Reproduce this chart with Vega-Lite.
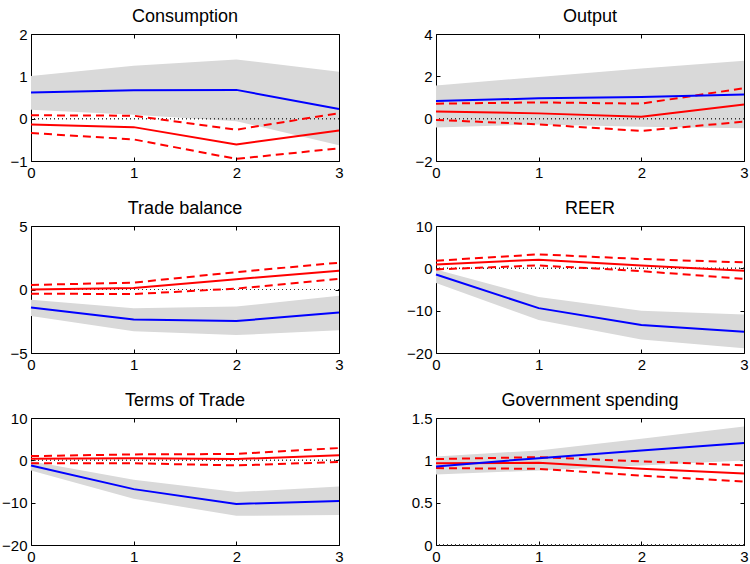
{
  "$schema": "https://vega.github.io/schema/vega-lite/v6.json",
  "background": "white",
  "padding": {"left": 1, "top": 7, "right": 0, "bottom": 2},
  "datasets": {
    "irf": [
      {"panel": "C", "h": 0, "lo": 0.21, "hi": 1.01, "irf": 0.62, "red": -0.14, "redHi": 0.08, "redLo": -0.34},
      {"panel": "C", "h": 1, "lo": 0.09, "hi": 1.25, "irf": 0.67, "red": -0.20, "redHi": 0.07, "redLo": -0.49},
      {"panel": "C", "h": 2, "lo": -0.06, "hi": 1.40, "irf": 0.68, "red": -0.61, "redHi": -0.26, "redLo": -0.95},
      {"panel": "C", "h": 3, "lo": -0.63, "hi": 1.11, "irf": 0.23, "red": -0.28, "redHi": 0.13, "redLo": -0.70},
      {"panel": "O", "h": 0, "lo": -0.42, "hi": 1.57, "irf": 0.83, "red": 0.34, "redHi": 0.71, "redLo": -0.06},
      {"panel": "O", "h": 1, "lo": -0.27, "hi": 1.97, "irf": 0.96, "red": 0.25, "redHi": 0.77, "redLo": -0.27},
      {"panel": "O", "h": 2, "lo": -0.38, "hi": 2.37, "irf": 1.02, "red": 0.09, "redHi": 0.71, "redLo": -0.58},
      {"panel": "O", "h": 3, "lo": -0.45, "hi": 2.74, "irf": 1.14, "red": 0.67, "redHi": 1.44, "redLo": -0.14},
      {"panel": "TB", "h": 0, "lo": -2.08, "hi": -0.81, "irf": -1.42, "red": 0.0, "redHi": 0.36, "redLo": -0.33},
      {"panel": "TB", "h": 1, "lo": -3.28, "hi": -1.47, "irf": -2.37, "red": 0.12, "redHi": 0.54, "redLo": -0.36},
      {"panel": "TB", "h": 2, "lo": -3.59, "hi": -1.34, "irf": -2.48, "red": 0.81, "redHi": 1.37, "redLo": 0.07},
      {"panel": "TB", "h": 3, "lo": -3.20, "hi": -0.49, "irf": -1.82, "red": 1.47, "redHi": 2.11, "redLo": 0.84},
      {"panel": "R", "h": 0, "lo": -3.45, "hi": -0.3, "irf": -1.46, "red": 0.93, "redHi": 1.8, "redLo": -0.26},
      {"panel": "R", "h": 1, "lo": -12.2, "hi": -6.8, "irf": -9.4, "red": 2.04, "redHi": 3.3, "redLo": 0.69},
      {"panel": "R", "h": 2, "lo": -16.8, "hi": -10.0, "irf": -13.4, "red": 0.69, "redHi": 2.2, "redLo": -0.66},
      {"panel": "R", "h": 3, "lo": -18.9, "hi": -10.9, "irf": -15.0, "red": -0.58, "redHi": 1.4, "redLo": -2.49},
      {"panel": "T", "h": 0, "lo": -2.4, "hi": -0.2, "irf": -1.2, "red": 0.4, "redHi": 1.0, "redLo": -0.7},
      {"panel": "T", "h": 1, "lo": -9.1, "hi": -4.6, "irf": -6.8, "red": 0.5, "redHi": 1.4, "redLo": -0.7},
      {"panel": "T", "h": 2, "lo": -13.1, "hi": -7.5, "irf": -10.3, "red": 0.3, "redHi": 1.5, "redLo": -1.2},
      {"panel": "T", "h": 3, "lo": -12.9, "hi": -6.2, "irf": -9.6, "red": 1.2, "redHi": 2.9, "redLo": -0.4},
      {"panel": "G", "h": 0, "lo": 0.833, "hi": 1.046, "irf": 0.928, "red": 0.967, "redHi": 1.015, "redLo": 0.908},
      {"panel": "G", "h": 1, "lo": 0.88, "hi": 1.117, "irf": 1.026, "red": 0.971, "redHi": 1.038, "redLo": 0.90},
      {"panel": "G", "h": 2, "lo": 0.94, "hi": 1.255, "irf": 1.117, "red": 0.90, "redHi": 0.987, "redLo": 0.82},
      {"panel": "G", "h": 3, "lo": 0.999, "hi": 1.40, "irf": 1.204, "red": 0.845, "redHi": 0.94, "redLo": 0.75}
    ]
  },
  "data": {"name": "irf"},
  "columns": 2,
  "bounds": "flush",
  "spacing": {"row": 65, "column": 97},
  "concat": [
    {
      "title": "Consumption", "width": 308, "height": 127,
      "transform": [{"filter": "datum.panel === 'C'"}],
      "layer": [
        {"mark": {"type": "area", "color": "#d9d9d9"}, "encoding": {"x": {"field": "h", "type": "quantitative", "scale": {"domain": [0, 3], "nice": false, "zero": false}, "axis": {"values": [0, 1, 2, 3], "title": null}}, "y": {"field": "lo", "type": "quantitative", "scale": {"domain": [-1, 2], "nice": false, "zero": false}, "axis": {"values": [-1, 0, 1, 2], "title": null, "format": "~r"}}, "y2": {"field": "hi"}}},
        {"mark": {"type": "rule", "color": "#333333", "strokeDash": [1, 3], "strokeWidth": 1}, "encoding": {"y": {"datum": 0, "type": "quantitative", "scale": {"domain": [-1, 2], "nice": false, "zero": false}, "axis": null}}},
        {"mark": {"type": "line", "color": "#ff0000", "strokeWidth": 2, "strokeDash": [8, 5]}, "encoding": {"x": {"field": "h", "type": "quantitative", "scale": {"domain": [0, 3], "nice": false, "zero": false}, "axis": {"orient": "top", "values": [0, 1, 2, 3], "labels": false, "title": null}}, "y": {"field": "redHi", "type": "quantitative", "scale": {"domain": [-1, 2], "nice": false, "zero": false}, "axis": {"orient": "right", "values": [-1, 0, 1, 2], "labels": false, "title": null}}}},
        {"mark": {"type": "line", "color": "#ff0000", "strokeWidth": 2, "strokeDash": [8, 5]}, "encoding": {"x": {"field": "h", "type": "quantitative", "axis": null}, "y": {"field": "redLo", "type": "quantitative", "axis": null}}},
        {"mark": {"type": "line", "color": "#ff0000", "strokeWidth": 2}, "encoding": {"x": {"field": "h", "type": "quantitative", "axis": null}, "y": {"field": "red", "type": "quantitative", "axis": null}}},
        {"mark": {"type": "line", "color": "#0000ff", "strokeWidth": 2}, "encoding": {"x": {"field": "h", "type": "quantitative", "axis": null}, "y": {"field": "irf", "type": "quantitative", "axis": null}}}
      ],
      "resolve": {"axis": {"x": "independent", "y": "independent"}}
    },
    {
      "title": "Output", "width": 308, "height": 127,
      "transform": [{"filter": "datum.panel === 'O'"}],
      "layer": [
        {"mark": {"type": "area", "color": "#d9d9d9"}, "encoding": {"x": {"field": "h", "type": "quantitative", "scale": {"domain": [0, 3], "nice": false, "zero": false}, "axis": {"values": [0, 1, 2, 3], "title": null}}, "y": {"field": "lo", "type": "quantitative", "scale": {"domain": [-2, 4], "nice": false, "zero": false}, "axis": {"values": [-2, 0, 2, 4], "title": null, "format": "~r"}}, "y2": {"field": "hi"}}},
        {"mark": {"type": "rule", "color": "#333333", "strokeDash": [1, 3], "strokeWidth": 1}, "encoding": {"y": {"datum": 0, "type": "quantitative", "scale": {"domain": [-2, 4], "nice": false, "zero": false}, "axis": null}}},
        {"mark": {"type": "line", "color": "#ff0000", "strokeWidth": 2, "strokeDash": [8, 5]}, "encoding": {"x": {"field": "h", "type": "quantitative", "scale": {"domain": [0, 3], "nice": false, "zero": false}, "axis": {"orient": "top", "values": [0, 1, 2, 3], "labels": false, "title": null}}, "y": {"field": "redHi", "type": "quantitative", "scale": {"domain": [-2, 4], "nice": false, "zero": false}, "axis": {"orient": "right", "values": [-2, 0, 2, 4], "labels": false, "title": null}}}},
        {"mark": {"type": "line", "color": "#ff0000", "strokeWidth": 2, "strokeDash": [8, 5]}, "encoding": {"x": {"field": "h", "type": "quantitative", "axis": null}, "y": {"field": "redLo", "type": "quantitative", "axis": null}}},
        {"mark": {"type": "line", "color": "#ff0000", "strokeWidth": 2}, "encoding": {"x": {"field": "h", "type": "quantitative", "axis": null}, "y": {"field": "red", "type": "quantitative", "axis": null}}},
        {"mark": {"type": "line", "color": "#0000ff", "strokeWidth": 2}, "encoding": {"x": {"field": "h", "type": "quantitative", "axis": null}, "y": {"field": "irf", "type": "quantitative", "axis": null}}}
      ],
      "resolve": {"axis": {"x": "independent", "y": "independent"}}
    },
    {
      "title": "Trade balance", "width": 308, "height": 127,
      "transform": [{"filter": "datum.panel === 'TB'"}],
      "layer": [
        {"mark": {"type": "area", "color": "#d9d9d9"}, "encoding": {"x": {"field": "h", "type": "quantitative", "scale": {"domain": [0, 3], "nice": false, "zero": false}, "axis": {"values": [0, 1, 2, 3], "title": null}}, "y": {"field": "lo", "type": "quantitative", "scale": {"domain": [-5, 5], "nice": false, "zero": false}, "axis": {"values": [-5, 0, 5], "title": null, "format": "~r"}}, "y2": {"field": "hi"}}},
        {"mark": {"type": "rule", "color": "#333333", "strokeDash": [1, 3], "strokeWidth": 1}, "encoding": {"y": {"datum": 0, "type": "quantitative", "scale": {"domain": [-5, 5], "nice": false, "zero": false}, "axis": null}}},
        {"mark": {"type": "line", "color": "#ff0000", "strokeWidth": 2, "strokeDash": [8, 5]}, "encoding": {"x": {"field": "h", "type": "quantitative", "scale": {"domain": [0, 3], "nice": false, "zero": false}, "axis": {"orient": "top", "values": [0, 1, 2, 3], "labels": false, "title": null}}, "y": {"field": "redHi", "type": "quantitative", "scale": {"domain": [-5, 5], "nice": false, "zero": false}, "axis": {"orient": "right", "values": [-5, 0, 5], "labels": false, "title": null}}}},
        {"mark": {"type": "line", "color": "#ff0000", "strokeWidth": 2, "strokeDash": [8, 5]}, "encoding": {"x": {"field": "h", "type": "quantitative", "axis": null}, "y": {"field": "redLo", "type": "quantitative", "axis": null}}},
        {"mark": {"type": "line", "color": "#ff0000", "strokeWidth": 2}, "encoding": {"x": {"field": "h", "type": "quantitative", "axis": null}, "y": {"field": "red", "type": "quantitative", "axis": null}}},
        {"mark": {"type": "line", "color": "#0000ff", "strokeWidth": 2}, "encoding": {"x": {"field": "h", "type": "quantitative", "axis": null}, "y": {"field": "irf", "type": "quantitative", "axis": null}}}
      ],
      "resolve": {"axis": {"x": "independent", "y": "independent"}}
    },
    {
      "title": "REER", "width": 308, "height": 127,
      "transform": [{"filter": "datum.panel === 'R'"}],
      "layer": [
        {"mark": {"type": "area", "color": "#d9d9d9"}, "encoding": {"x": {"field": "h", "type": "quantitative", "scale": {"domain": [0, 3], "nice": false, "zero": false}, "axis": {"values": [0, 1, 2, 3], "title": null}}, "y": {"field": "lo", "type": "quantitative", "scale": {"domain": [-20, 10], "nice": false, "zero": false}, "axis": {"values": [-20, -10, 0, 10], "title": null, "format": "~r"}}, "y2": {"field": "hi"}}},
        {"mark": {"type": "rule", "color": "#333333", "strokeDash": [1, 3], "strokeWidth": 1}, "encoding": {"y": {"datum": 0, "type": "quantitative", "scale": {"domain": [-20, 10], "nice": false, "zero": false}, "axis": null}}},
        {"mark": {"type": "line", "color": "#ff0000", "strokeWidth": 2, "strokeDash": [8, 5]}, "encoding": {"x": {"field": "h", "type": "quantitative", "scale": {"domain": [0, 3], "nice": false, "zero": false}, "axis": {"orient": "top", "values": [0, 1, 2, 3], "labels": false, "title": null}}, "y": {"field": "redHi", "type": "quantitative", "scale": {"domain": [-20, 10], "nice": false, "zero": false}, "axis": {"orient": "right", "values": [-20, -10, 0, 10], "labels": false, "title": null}}}},
        {"mark": {"type": "line", "color": "#ff0000", "strokeWidth": 2, "strokeDash": [8, 5]}, "encoding": {"x": {"field": "h", "type": "quantitative", "axis": null}, "y": {"field": "redLo", "type": "quantitative", "axis": null}}},
        {"mark": {"type": "line", "color": "#ff0000", "strokeWidth": 2}, "encoding": {"x": {"field": "h", "type": "quantitative", "axis": null}, "y": {"field": "red", "type": "quantitative", "axis": null}}},
        {"mark": {"type": "line", "color": "#0000ff", "strokeWidth": 2}, "encoding": {"x": {"field": "h", "type": "quantitative", "axis": null}, "y": {"field": "irf", "type": "quantitative", "axis": null}}}
      ],
      "resolve": {"axis": {"x": "independent", "y": "independent"}}
    },
    {
      "title": "Terms of Trade", "width": 308, "height": 127,
      "transform": [{"filter": "datum.panel === 'T'"}],
      "layer": [
        {"mark": {"type": "area", "color": "#d9d9d9"}, "encoding": {"x": {"field": "h", "type": "quantitative", "scale": {"domain": [0, 3], "nice": false, "zero": false}, "axis": {"values": [0, 1, 2, 3], "title": null}}, "y": {"field": "lo", "type": "quantitative", "scale": {"domain": [-20, 10], "nice": false, "zero": false}, "axis": {"values": [-20, -10, 0, 10], "title": null, "format": "~r"}}, "y2": {"field": "hi"}}},
        {"mark": {"type": "rule", "color": "#333333", "strokeDash": [1, 3], "strokeWidth": 1}, "encoding": {"y": {"datum": 0, "type": "quantitative", "scale": {"domain": [-20, 10], "nice": false, "zero": false}, "axis": null}}},
        {"mark": {"type": "line", "color": "#ff0000", "strokeWidth": 2, "strokeDash": [8, 5]}, "encoding": {"x": {"field": "h", "type": "quantitative", "scale": {"domain": [0, 3], "nice": false, "zero": false}, "axis": {"orient": "top", "values": [0, 1, 2, 3], "labels": false, "title": null}}, "y": {"field": "redHi", "type": "quantitative", "scale": {"domain": [-20, 10], "nice": false, "zero": false}, "axis": {"orient": "right", "values": [-20, -10, 0, 10], "labels": false, "title": null}}}},
        {"mark": {"type": "line", "color": "#ff0000", "strokeWidth": 2, "strokeDash": [8, 5]}, "encoding": {"x": {"field": "h", "type": "quantitative", "axis": null}, "y": {"field": "redLo", "type": "quantitative", "axis": null}}},
        {"mark": {"type": "line", "color": "#ff0000", "strokeWidth": 2}, "encoding": {"x": {"field": "h", "type": "quantitative", "axis": null}, "y": {"field": "red", "type": "quantitative", "axis": null}}},
        {"mark": {"type": "line", "color": "#0000ff", "strokeWidth": 2}, "encoding": {"x": {"field": "h", "type": "quantitative", "axis": null}, "y": {"field": "irf", "type": "quantitative", "axis": null}}}
      ],
      "resolve": {"axis": {"x": "independent", "y": "independent"}}
    },
    {
      "title": "Government spending", "width": 308, "height": 127,
      "transform": [{"filter": "datum.panel === 'G'"}],
      "layer": [
        {"mark": {"type": "area", "color": "#d9d9d9"}, "encoding": {"x": {"field": "h", "type": "quantitative", "scale": {"domain": [0, 3], "nice": false, "zero": false}, "axis": {"values": [0, 1, 2, 3], "title": null}}, "y": {"field": "lo", "type": "quantitative", "scale": {"domain": [0, 1.5], "nice": false, "zero": false}, "axis": {"values": [0, 0.5, 1, 1.5], "title": null, "format": "~r"}}, "y2": {"field": "hi"}}},
        {"mark": {"type": "rule", "color": "#333333", "strokeDash": [1, 3], "strokeWidth": 1}, "encoding": {"y": {"datum": 0, "type": "quantitative", "scale": {"domain": [0, 1.5], "nice": false, "zero": false}, "axis": null}}},
        {"mark": {"type": "line", "color": "#ff0000", "strokeWidth": 2, "strokeDash": [8, 5]}, "encoding": {"x": {"field": "h", "type": "quantitative", "scale": {"domain": [0, 3], "nice": false, "zero": false}, "axis": {"orient": "top", "values": [0, 1, 2, 3], "labels": false, "title": null}}, "y": {"field": "redHi", "type": "quantitative", "scale": {"domain": [0, 1.5], "nice": false, "zero": false}, "axis": {"orient": "right", "values": [0, 0.5, 1, 1.5], "labels": false, "title": null}}}},
        {"mark": {"type": "line", "color": "#ff0000", "strokeWidth": 2, "strokeDash": [8, 5]}, "encoding": {"x": {"field": "h", "type": "quantitative", "axis": null}, "y": {"field": "redLo", "type": "quantitative", "axis": null}}},
        {"mark": {"type": "line", "color": "#ff0000", "strokeWidth": 2}, "encoding": {"x": {"field": "h", "type": "quantitative", "axis": null}, "y": {"field": "red", "type": "quantitative", "axis": null}}},
        {"mark": {"type": "line", "color": "#0000ff", "strokeWidth": 2}, "encoding": {"x": {"field": "h", "type": "quantitative", "axis": null}, "y": {"field": "irf", "type": "quantitative", "axis": null}}}
      ],
      "resolve": {"axis": {"x": "independent", "y": "independent"}}
    }
  ],
  "config": {
    "view": {"stroke": "#000000", "strokeWidth": 1},
    "axis": {"domain": false, "grid": false, "ticks": true, "tickColor": "#000000", "tickSize": -4, "tickWidth": 1, "labelFont": "Liberation Sans", "labelFontSize": 15, "labelColor": "#000000", "labelPadding": 8, "labelFlush": false, "labelOverlap": false, "labelBound": false},
    "title": {"font": "Liberation Sans", "fontSize": 18, "fontWeight": "normal", "color": "#000000", "offset": 1, "anchor": "middle", "baseline": "alphabetic"}
  }
}
